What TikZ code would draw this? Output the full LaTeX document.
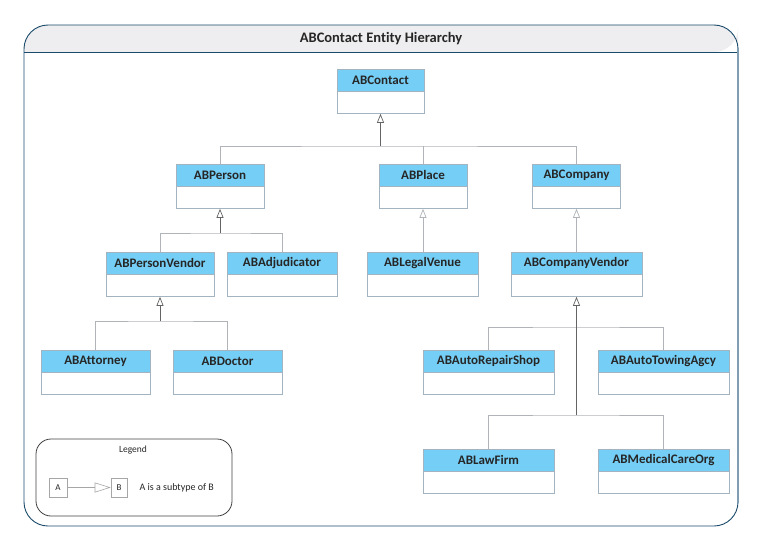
\documentclass[tikz,border=0pt]{standalone}
\usepackage{fontspec}
\setmainfont{Carlito}[Ligatures=NoCommon]
\usetikzlibrary{arrows.meta}
\definecolor{hdr}{RGB}{116,206,245}
\definecolor{boxline}{RGB}{163,179,192}
\definecolor{framecol}{RGB}{27,75,107}
\definecolor{frameside}{RGB}{127,157,179}
\definecolor{framehdr}{RGB}{238,238,240}
\definecolor{txt}{RGB}{38,38,38}
\definecolor{branchcol}{RGB}{176,180,184}
\definecolor{trunkcol}{RGB}{100,100,100}
\tikzset{
  clsbody/.style={draw=boxline, line width=0.8pt, fill=white, minimum height=44pt, inner sep=0pt, anchor=north},
  clshead/.style={draw=boxline, line width=0.8pt, fill=hdr, minimum height=22pt, inner sep=0pt, anchor=north, font=\fontsize{13}{15}\selectfont\bfseries, text=txt},
  branch/.style={draw=branchcol, line width=0.7pt},
  trunk/.style={draw=trunkcol, line width=0.7pt},
  gen/.style={-{Triangle[open, length=9pt, width=7pt, fill=white]}},
  lgbox/.style={draw=gray!70, line width=0.6pt, inner sep=0pt, font=\fontsize{9}{10}\selectfont, text=txt},
}
\newcommand\clsbox[5]{%
  \node[clsbody, minimum width=#4pt] (#1) at (#2,#3) {};
  \node[clshead, minimum width=#4pt] (#1h) at (#1.north) {#5};
}
\begin{document}
\begin{tikzpicture}[x=1pt, y=-1pt]
\useasboundingbox (0,0) rectangle (763,551);
% frame
\fill[framehdr, rounded corners=24] (24,52) -- (24,25) -- (738,25) -- (738,52) [sharp corners] -- cycle;
\draw[framecol, line width=0.9pt, rounded corners=24] (24,25) rectangle (738,526);
\draw[framecol, line width=0.9pt] (24,52) -- (738,52);
\draw[frameside, line width=1.6pt] (738,48) -- (738,503);
\node[font=\fontsize{14.5}{16}\selectfont\bfseries, text=txt] (title) at (381,39) {ABContact Entity Hierarchy};
% classes
\clsbox{contact}{380.5}{69}{87}{ABContact}
\clsbox{person}{220}{164}{88}{ABPerson}
\clsbox{place}{423}{164}{88}{ABPlace}
\clsbox{company}{576.5}{164}{88}{ABCompany}
\clsbox{personvendor}{160}{252}{108}{ABPersonVendor}
\clsbox{adjudicator}{282}{252}{110}{ABAdjudicator}
\clsbox{legalvenue}{422.5}{252}{111}{ABLegalVenue}
\clsbox{companyvendor}{576.5}{252}{131}{ABCompanyVendor}
\clsbox{attorney}{95.5}{350}{109}{ABAttorney}
\clsbox{doctor}{227.5}{350}{109}{ABDoctor}
\clsbox{autorepair}{488.5}{350}{131}{ABAutoRepairShop}
\clsbox{autotowing}{663.5}{350}{131}{ABAutoTowingAgcy}
\clsbox{lawfirm}{488.5}{449}{131}{ABLawFirm}
\clsbox{medical}{663.5}{449}{131}{ABMedicalCareOrg}
% connectors
\coordinate (b1) at (380.5,146);
\draw[branch] (person.north) |- (b1) -| (company.north);
\draw[branch] (place.north) -- (place.north |- b1);
\draw[trunk, gen] (b1) -- (contact.south);
\draw[branch, gen] (place.south |- legalvenue.north) -- (place.south);
\draw[branch, gen] (company.south |- companyvendor.north) -- (company.south);
\coordinate (b2) at (220,233);
\draw[branch] (personvendor.north) |- (b2) -| (adjudicator.north);
\draw[trunk, gen] (b2) -- (person.south);
\coordinate (b3) at (160,321);
\draw[branch] (attorney.north) |- (b3) -| (doctor.north);
\draw[trunk, gen] (b3) -- (personvendor.south);
\coordinate (b4) at (576.5,327);
\coordinate (b5) at (576.5,415);
\draw[branch] (autorepair.north) |- (b4) -| (autotowing.north);
\draw[branch] (lawfirm.north) |- (b5) -| (medical.north);
\draw[trunk, gen] (b5) -- (b4) -- (companyvendor.south);
% legend
\draw[black!75, line width=0.8pt, rounded corners=15] (36,439) rectangle (232,516);
\node[font=\fontsize{9.5}{11}\selectfont, text=txt] (legendtitle) at (133,450) {Legend};
\node[lgbox, minimum width=18pt, minimum height=19pt] (la) at (58,487.5) {A};
\node[lgbox, minimum width=16pt, minimum height=19pt] (lb) at (119,487.5) {B};
\draw[draw=gray!70, line width=0.6pt, -{Triangle[open, length=16pt, width=10pt, fill=white]}] (la) -- (lb);
\node[font=\fontsize{10}{12}\selectfont, text=txt, anchor=west] (ltext) at (136,487.5) {A is a subtype of B};
\end{tikzpicture}
\end{document}
